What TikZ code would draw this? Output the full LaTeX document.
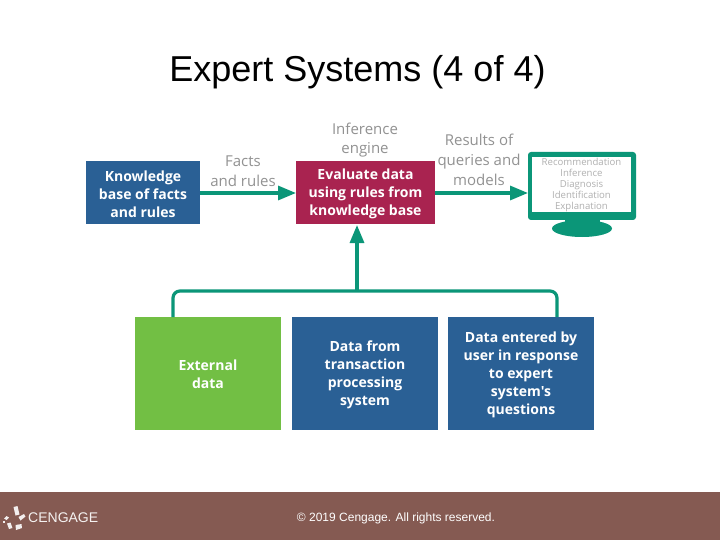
\documentclass[tikz,border=0pt]{standalone}
\usepackage{fontspec}
\setmainfont{Liberation Sans}
\newfontfamily\labelfont{Open Sans}
\usetikzlibrary{arrows.meta}
\definecolor{bluebox}{HTML}{2A6095}
\definecolor{redbox}{HTML}{A92350}
\definecolor{greenbox}{HTML}{72BF44}
\definecolor{tealline}{HTML}{0B9678}
\definecolor{barcol}{HTML}{855A52}
\definecolor{greytext}{HTML}{929292}
\definecolor{monotext}{HTML}{B0B0B0}
\tikzset{
  x=1pt,y=-1pt,
  boxtext/.style={font=\labelfont\bfseries\fontsize{14}{18}\selectfont,text=white,align=center,inner sep=0pt,anchor=center},
  caplabel/.style={font=\labelfont\fontsize{15}{19.7}\selectfont,text=greytext,align=center,inner sep=0pt},
  link/.style={draw=tealline,line width=3.2pt,-{Triangle[length=18pt,width=14pt]}},
  plainlink/.style={draw=tealline,line width=3.2pt,rounded corners=7pt},
  chip/.style={fill=white!90!barcol,draw=none}
}
\begin{document}
\begin{tikzpicture}
\useasboundingbox (0,0) rectangle (720,540);
\fill[white] (0,0) rectangle (720,540);
\fill[barcol] (0,492) rectangle (720,540);
\node[inner sep=0pt,font=\fontsize{36}{40}\selectfont,text=black] (title) at (357.5,72) {Expert Systems (4 of 4)};
% boxes
\fill[bluebox] (86,161) rectangle (200,224);
\fill[redbox] (296,161) rectangle (435,224);
\fill[greenbox] (135,317) rectangle (281,430);
\fill[bluebox] (292,317) rectangle (438,430);
\fill[bluebox] (448,317) rectangle (594,430);
\node[minimum width=114pt,minimum height=63pt,boxtext] (kb) at (143,194) {Knowledge\\base of facts\\and rules};
\node[minimum width=139pt,minimum height=63pt,boxtext] (ev) at (365.5,194) {Evaluate data\\using rules from\\knowledge base};
\node[minimum width=146pt,minimum height=113pt,boxtext] (ext) at (208,374.5) {External\\data};
\node[minimum width=146pt,minimum height=113pt,boxtext] (tp) at (365,375) {Data from\\transaction\\processing\\system};
\node[minimum width=146pt,minimum height=113pt,boxtext] (usr) at (521,375) {Data entered by\\user in response\\to expert\\system's\\questions};
\node[caplabel] (inf) at (365,140) {Inference\\engine};
\node[caplabel] (fr) at (243,171) {Facts\\and rules};
\node[caplabel] (res) at (479,160) {Results of\\queries and\\models};
% monitor
\fill[tealline,rounded corners=3pt] (528,152) rectangle (636,220);
\fill[tealline] (565,218) rectangle (600,226);
\fill[tealline] (582,228.5) ellipse [x radius=30, y radius=8.5];
\node[fill=white,minimum width=99pt,minimum height=55pt,inner sep=0pt,
  font=\labelfont\fontsize{9.6}{11}\selectfont,text=monotext,align=center] (mon) at (581.5,185) {Recommendation\\Inference\\Diagnosis\\Identification\\Explanation};
% connectors
\coordinate (kbOut) at (200,193);
\coordinate (evIn1) at (296,193);
\coordinate (evOut) at (435,193);
\coordinate (monIn) at (528,193);
\coordinate (join) at (357,291);
\coordinate (extTop) at (173,317);
\coordinate (usrTop) at (557,317);
\coordinate (evIn) at (357,225);
\draw[link] (kbOut) -- (evIn1);
\draw[link] (evOut) -- (monIn);
\draw[plainlink] (extTop) |- (join) -| (usrTop);
\draw[link] (join) -- (evIn);
% logo
\begin{scope}[shift={(15,517)}]
\fill[chip] (-1.5,-10) -- (2.5,-11) -- (4.5,-2.5) -- (0.5,-1.5) -- cycle;
\fill[chip] (3.5,0) -- (9,-3) -- (10.5,-0.5) -- (5.5,3.5) -- cycle;
\fill[chip] (-8.5,-1) -- (-6,0.5) -- (-8.5,3) -- (-11,1.5) -- cycle;
\fill[chip] (-12.5,3.5) -- (-10.5,3.5) -- (-10.5,6) -- (-12.5,6) -- cycle;
\fill[chip] (-8,6.5) -- (-4.5,5.5) -- (-2.5,11) -- (-6,12) -- cycle;
\fill[chip] (0.5,8) -- (6.5,7) -- (7,11) -- (1,13) -- cycle;
\end{scope}
\node[inner sep=0pt,anchor=west,text=white!92!barcol,font=\fontsize{14}{16}\selectfont] (cg) at (28,518) {CENGAGE};
\node[inner sep=0pt,text=white,font=\fontsize{12}{14}\selectfont] (copy) at (396,518) {© 2019 Cengage. All rights reserved.};
\end{tikzpicture}
\end{document}
